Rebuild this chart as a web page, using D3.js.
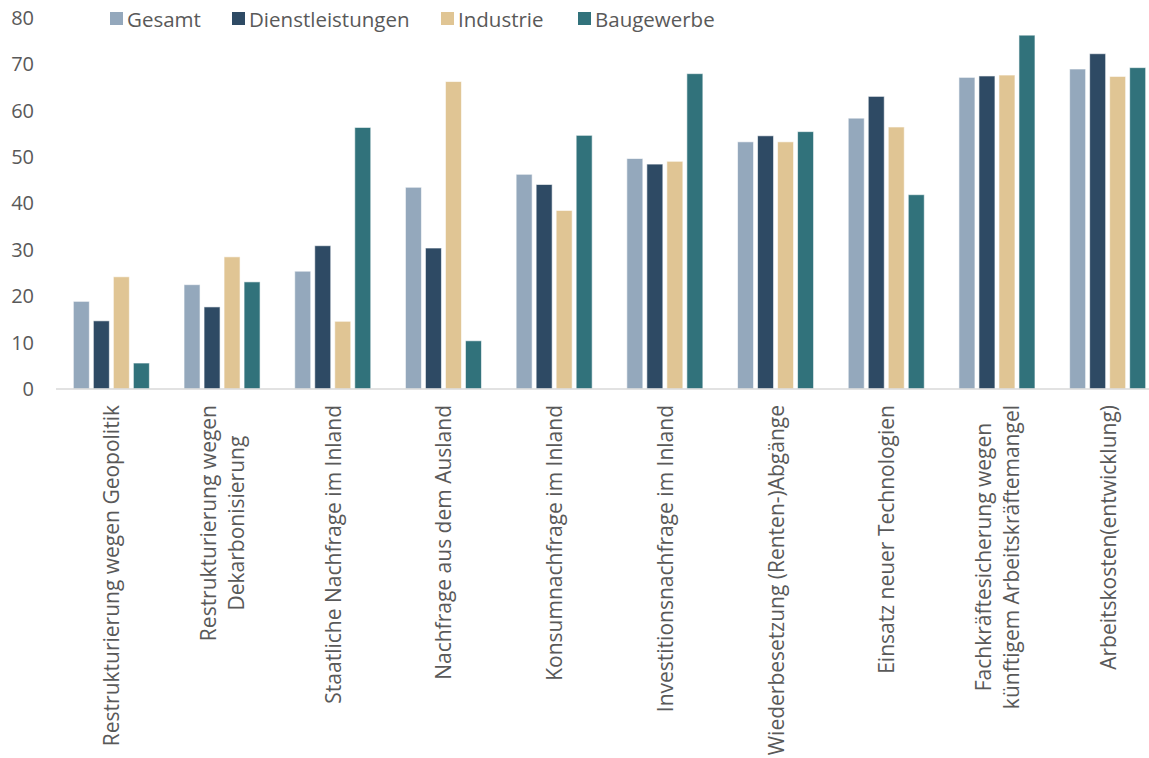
<!DOCTYPE html>
<html>
<head>
  <meta charset="utf-8">
  <title>Gründe für Personalplanung</title>
  <style>
    body { margin: 0; background: #fff; }
    svg { display: block; font-family: "Open Sans", sans-serif; }
    .tick text { fill: #595959; }
  </style>
</head>
<body>
  <script src="https://cdn.jsdelivr.net/npm/d3@7/dist/d3.min.js"></script>
  <script>
    // data
    const categories = [
      ["Restrukturierung wegen Geopolitik"],
      ["Restrukturierung wegen", "Dekarbonisierung"],
      ["Staatliche Nachfrage im Inland"],
      ["Nachfrage aus dem Ausland"],
      ["Konsumnachfrage im Inland"],
      ["Investitionsnachfrage im Inland"],
      ["Wiederbesetzung (Renten-)Abgänge"],
      ["Einsatz neuer Technologien"],
      ["Fachkräftesicherung wegen", "künftigem Arbeitskräftemangel"],
      ["Arbeitskosten(entwicklung)"]
    ];
    const seriesNames = ["Gesamt", "Dienstleistungen", "Industrie", "Baugewerbe"];
    const gesamt    = [18.9, 22.5, 25.4, 43.5, 46.3, 49.7, 53.3, 58.4, 67.2, 69.0];
    const dienst    = [14.7, 17.7, 30.9, 30.4, 44.1, 48.5, 54.6, 63.1, 67.5, 72.3];
    const industrie = [24.2, 28.5, 14.6, 66.3, 38.5, 49.1, 53.3, 56.5, 67.7, 67.4];
    const bau       = [5.6, 23.1, 56.4, 10.4, 54.7, 68.0, 55.5, 41.9, 76.3, 69.3];
    const yTicks = [0, 10, 20, 30, 40, 50, 60, 70, 80];

    const colors = ["#94a8bc", "#2e4a64", "#e0c594", "#31727b"];
    const W = 1149, H = 758;

    const series = [gesamt, dienst, industrie, bau];
    const rows = categories.map((c, i) => ({
      key: i,
      label: c,
      values: series.map((s, j) => ({ name: seriesNames[j], value: s[i] }))
    }));

    const svg = d3.select("body").append("svg")
      .attr("width", W)
      .attr("height", H);

    // scales
    const x0 = d3.scaleBand()
      .domain(rows.map(d => d.key))
      .range([56, 1163])
      .paddingInner(0.277)
      .paddingOuter(0.1385);
    const x1 = d3.scaleBand()
      .domain(seriesNames)
      .range([0, x0.bandwidth()])
      .paddingInner(0.2)
      .paddingOuter(0.1);
    const y = d3.scaleLinear().domain([0, 80]).range([389, 18]);
    const color = d3.scaleOrdinal().domain(seriesNames).range(colors);

    // bars
    svg.append("g").selectAll("g")
      .data(rows)
      .enter().append("g")
      .attr("transform", d => "translate(" + x0(d.key) + ",0)")
      .selectAll("rect")
      .data(d => d.values)
      .enter().append("rect")
      .attr("x", d => x1(d.name))
      .attr("y", d => y(d.value))
      .attr("width", x1.bandwidth())
      .attr("height", d => y(0) - y(d.value))
      .attr("fill", d => color(d.name))
      .attr("stroke", "#fff")
      .attr("stroke-opacity", 0.6)
      .attr("stroke-width", 1);

    // y axis (labels only)
    const yAxis = svg.append("g")
      .attr("transform", "translate(34,0)")
      .call(d3.axisLeft(y).tickValues(yTicks).tickSize(0).tickPadding(0));
    yAxis.select(".domain").remove();
    yAxis.selectAll("text").attr("font-size", "20px").attr("font-family", "Open Sans");

    // x axis line
    svg.append("line")
      .attr("x1", 56).attr("x2", W)
      .attr("y1", y(0)).attr("y2", y(0))
      .attr("stroke", "#d9d9d9")
      .attr("stroke-width", 1.5);

    // x labels, rotated, multi-line blocks centred on the longest line
    const xAxis = svg.append("g")
      .attr("transform", "translate(0," + y(0) + ")")
      .call(d3.axisBottom(x0).tickSize(0).tickFormat(""));
    xAxis.select(".domain").remove();
    xAxis.selectAll(".tick").each(function (k) {
      const lines = categories[k];
      const t = d3.select(this).select("text")
        .attr("transform", "rotate(-90)")
        .attr("y", 0).attr("dy", null)
        .attr("font-size", "21px")
        .attr("font-family", "Open Sans")
        .attr("fill", "#595959");
      const lh = 28;
      const spans = lines.map((s, i) => t.append("tspan")
        .attr("dominant-baseline", "central")
        .attr("y", (i - (lines.length - 1) / 2) * lh)
        .text(s));
      const maxLen = d3.max(spans, s => s.node().getComputedTextLength());
      t.attr("text-anchor", "middle");
      spans.forEach(s => s.attr("x", -(16 + maxLen / 2)));
    });

    // legend
    const legX = [110, 232, 441, 578];
    const leg = svg.append("g").selectAll("g")
      .data(seriesNames)
      .enter().append("g")
      .attr("transform", (d, i) => "translate(" + legX[i] + ",12)");
    leg.append("rect")
      .attr("width", 13).attr("height", 13)
      .attr("fill", d => color(d));
    leg.append("text")
      .attr("x", 17).attr("y", 7)
      .attr("dominant-baseline", "central")
      .attr("font-size", "20.5px")
      .attr("fill", "#595959")
      .text(d => d);
  </script>
</body>
</html>
